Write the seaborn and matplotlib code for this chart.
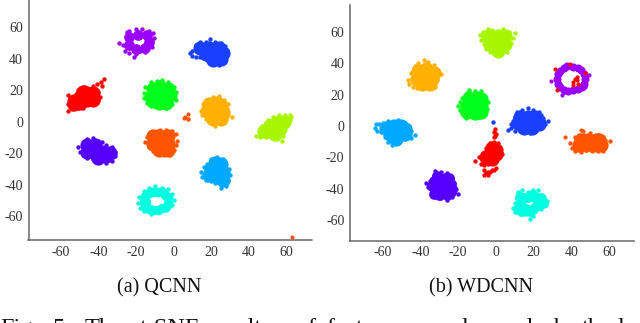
import matplotlib
matplotlib.use("Agg")
import matplotlib.pyplot as plt
import pandas as pd
import seaborn as sns

RED = "#ff0000"
ORANGE_RED = "#ff5500"
ORANGE = "#ffb000"
LIME = "#a8f500"
GREEN = "#00ff1a"
CYAN = "#00ffe0"
SKY = "#00a8ff"
BLUE = "#1a40ff"
INDIGO = "#5500ff"
VIOLET = "#9b00ff"

TICKS = [-60, -40, -20, 0, 20, 40, 60]

# QCNN clusters
q_violet_core = [(-24, 54), (-19, 55.5), (-14, 55), (-24, 49), (-20, 46.5), (-15, 47), (-13, 51)]
q_violet_edge = [(-29, 50), (-27, 49), (-26, 45), (-24, 44), (-21, 41.5), (-20, 43), (-18, 45), (-25, 57),
                 (-24, 58), (-20, 59), (-17, 59), (-13, 58), (-11, 56.5), (-10.5, 53), (-11.5, 47.5), (-12, 50), (-15, 44.5)]
q_blue_core = [(14, 47), (19, 47), (24, 47), (17, 43), (22, 43), (25, 40), (21, 39.5), (26, 44)]
q_blue_edge = [(8.5, 43.5), (10, 42), (12, 41.5), (14, 41), (10, 45), (12, 49), (14, 51), (17, 51), (19.5, 52.5),
               (22, 51), (25, 50), (27.5, 48), (27.5, 42), (27, 38), (24, 36), (21, 37), (18, 39)]
q_red_core = [(-53, 11), (-50, 12), (-50, 16), (-46, 14), (-46, 18), (-43, 18), (-48, 19), (-43, 14), (-53, 13)]
q_red_edge = [(-56, 7), (-56, 11), (-54, 8), (-51, 9), (-48, 9), (-45, 11), (-42, 12), (-40, 14), (-39, 16), (-56, 17),
              (-52, 17), (-51, 20), (-47, 22), (-43, 23), (-41, 24), (-38, 23), (-40, 19), (-37, 27.5), (-38.5, 25.5)]
q_green_core = [(-11, 21), (-7, 22), (-3, 21), (-12, 16), (-8, 17), (-4, 16), (-2, 17), (-8, 12), (-4, 12), (-11, 13)]
q_green_edge = [(-16, 18), (-15.5, 15), (-14, 12), (-12, 10), (-8, 9.5), (-4, 9), (-1, 11), (1, 14), (1.5, 19), (0, 22),
                (-3, 25), (-6, 26.5), (-9, 26), (-12, 25), (-15, 22)]
q_orange_core = [(19, 11), (23, 12), (25, 10), (18, 7), (22, 7), (26, 6), (21, 2), (25, 2)]
q_orange_edge = [(14.5, 7), (15, 4), (17, 2), (19, 0), (22, -2.5), (25, -1), (28, 2), (31, 3), (29, 4), (28, 8), (29, 11),
                 (27, 14), (24, 16.5), (21, 15.5), (18, 14), (15.5, 11)]
q_lime_core = [(56, 0), (53, -2), (56, -5), (50, -6), (54, -8), (58.5, 0), (48, -6), (51, -3)]
q_lime_edge = [(62.5, 3), (62, 1), (60, -2), (59, -5), (58, -9), (57.5, -12.5), (55, -11), (52, -10), (49, -9.5), (46, -10),
               (44, -9), (46, -7), (47, -3), (49, -1), (50, 1), (53, 3), (56, 4), (59, 4), (62, 4.5)]
q_tomato_core = [(-11, -9), (-7, -9), (-3, -9), (-11, -14), (-7, -14), (-3, -14), (-8, -18), (-3, -18)]
q_tomato_edge = [(-15, -13), (-14, -10), (-12, -7), (-9, -6), (-7, -5), (-4, -5), (-1, -6), (1, -8), (2, -12), (1, -15),
                 (0, -18), (-2, -21), (-5, -21.5), (-8, -20), (-11, -18.5), (-13, -16)]
q_tomato_strays = [(7.5, 5), (6, 3), (7.5, 1.5), (5.5, 2.5), (7.8, 2), (63, -73.5)]
q_indigo_core = [(-46, -15), (-42, -15), (-46, -19), (-42, -20), (-38, -19), (-36, -22), (-40, -23), (-34, -20)]
q_indigo_edge = [(-51, -16), (-50, -19), (-48, -21), (-46, -23), (-43, -24), (-40, -25), (-36, -26.5), (-33, -25), (-31, -22),
                 (-31, -19), (-33, -16), (-36, -15), (-38, -13), (-40, -12), (-43, -10.5), (-46, -11), (-48, -14)]
q_sky_core = [(22, -26), (25, -27), (20, -30), (24, -31), (26, -32), (19, -34), (23, -35), (26, -37)]
q_sky_edge = [(14.5, -32), (15, -35), (17, -37), (20, -38), (22, -39), (25, -42), (28, -41), (29, -38), (30, -34), (29.5, -30),
              (27, -27), (26, -24), (23, -22.5), (20, -23.5), (18, -27), (16, -29)]
q_cyan_core = [(-16, -51), (-15, -47), (-11, -45), (-6, -45), (-3, -48), (-3, -52), (-6, -55), (-11, -56), (-15, -54),
               (-8.5, -44.5), (-13, -45.5), (-8.5, -56.5), (-13, -55.5), (-4.5, -46.5), (-4, -54), (-14.5, -51)]
q_cyan_edge = [(-19, -52), (-18.5, -48), (-16, -44), (-13, -42), (-10, -41), (-6, -42), (-3, -43), (-1, -46), (0, -50), (-1, -53),
               (-4, -56), (-8, -57), (-12, -58.5), (-16, -57), (-18, -55)]

# WDCNN clusters
w_lime_core = [(-4, 57), (1, 57), (5, 57), (-3, 52), (1, 52), (5, 52), (1, 48)]
w_lime_edge = [(-8.5, 58), (-8, 55), (-6, 52), (-5, 49), (-3, 47), (0, 46), (1, 45), (3, 46), (6, 47), (7, 50), (8, 53), (9, 56),
               (10, 59), (7, 60), (4, 62), (1, 60), (-2, 61), (-4, 62), (-7, 60)]
w_orange_core = [(-41, 35), (-37, 36), (-33, 34), (-42, 30), (-38, 31), (-34, 30), (-39, 27), (-35, 27)]
w_orange_edge = [(-46.5, 29), (-46, 27), (-44, 25), (-42, 24), (-39, 25), (-36, 25), (-32, 25), (-31, 29), (-29, 33), (-31, 36),
                 (-33, 39), (-36, 41), (-38, 42), (-41, 40), (-43, 38), (-45, 34)]
w_green_core = [(-14, 18), (-10, 18), (-15, 13), (-11, 13), (-8, 13), (-15, 9), (-11, 8), (-8, 9), (-8, 17)]
w_green_edge = [(-20, 12.5), (-19, 15), (-18, 18), (-15, 21), (-14, 23), (-11, 22.5), (-8, 22), (-6, 19), (-4, 15), (-4.5, 11),
                (-6, 7), (-9, 6), (-12, 6), (-16, 5), (-18, 8), (-19, 10)]
w_violet_ring = [(47.5, 30), (47, 33), (45, 35.5), (43.5, 37), (41, 37.5), (38, 38), (36, 37), (34, 35), (33, 33), (32.5, 30),
                 (33, 27), (34, 25), (36, 23), (38.5, 22.5), (41, 23), (43.5, 23.5), (45.5, 25), (47, 27)]
w_violet_edge = [(29.3, 28.7), (49.6, 32.5), (35, 19.7), (47.3, 24.6), (36, 21.5), (48, 29)]
w_red_strays = [(42, 30), (43, 29), (41, 28), (43, 31), (41, 26), (43.5, 27), (31.4, 36), (39.4, 39.3), (47.3, 33.5), (32.7, 23)]
w_blue_core = [(13, 6), (17, 6), (21, 6), (12, 2), (16, 2), (20, 2), (23, 1), (15, -1), (19, -1), (23, 2)]
w_blue_edge = [(6.5, -2.5), (8, -1), (10, -3), (13, -3), (16, -3), (18, -4.5), (21, -3), (24, -1), (26, 1), (27.5, 3), (25, 5),
               (24, 7), (23, 9), (20, 10), (17, 11.5), (14, 10), (11, 9), (10, 6), (9, 3), (8, 1), (-1.6, 2.8)]
w_crimson_core = [(-2, -14), (0, -15), (-3, -18), (0, -18), (-5, -20), (-2, -21)]
w_crimson_edge = [(-11, -22), (-9, -20), (-7, -17), (-5, -14), (-3, -11), (-1, -10), (1, -11), (2, -14), (3, -17), (3.5, -18),
                  (1, -20), (-1, -23), (-4, -24), (-6, -25), (-8, -24.5),
                  (-1, -4), (0, -5), (-1, -7), (-0.5, -6.5), (-0.4, -2), (-6, -28), (-5, -30), (-6, -31), (-4, -29), (-2, -28),
                  (-1, -28), (0, -27), (-4, -31), (-3, -29.5)]
w_tomato_core = [(45, -9), (49, -9), (53, -9), (44, -12), (48, -12), (52, -12), (56, -12), (55, -9)]
w_tomato_edge = [(39.5, -11), (40.5, -14), (42, -16), (45, -16.5), (48, -15.5), (51, -16), (54, -16), (57, -16), (58, -13), (60.5, -9.5),
                 (58, -9), (57, -7), (54, -6), (50, -4.5), (47, -5.5), (44, -5.5), (42, -7)]
w_tomato_strays = [(36.5, -7), (45, -2.5), (46, -3)]
w_sky_core = [(-58, -1), (-54, 0), (-50, 0), (-56, -5), (-52, -4), (-48, -2), (-53, -8), (-48, -5)]
w_sky_edge = [(-64, -1), (-63.5, 1), (-62, 1), (-60, 2), (-57, 3), (-52, 3.5), (-48, 2), (-46, 0), (-45, -3), (-43, -6), (-45, -7.5),
              (-48, -8), (-50, -9), (-53, -11), (-55, -12), (-57, -10), (-59, -7), (-61, -4), (-63, -3)]
w_indigo_core = [(-31, -32), (-27, -33), (-27, -37), (-24, -37), (-28, -42), (-24, -42), (-26, -44), (-33, -43), (-34, -38),
                 (-30, -44), (-23, -40), (-25, -33), (-33, -35), (-29, -40), (-28, -36)]
w_indigo_edge = [(-37, -36), (-36, -39), (-34, -42), (-32, -44), (-29, -46), (-26, -47), (-23, -45), (-20, -43), (-21, -40), (-22, -36),
                 (-23, -33), (-26, -30), (-29, -29), (-32, -28.5), (-33, -31), (-35, -35), (-34, -38)]
w_cyan_core = [(13, -45), (17, -45), (21, -45), (13, -50), (22, -50), (14, -54), (18, -54), (25, -49),
               (24, -46), (20, -53), (16, -53), (12, -53), (15, -46), (19, -44)]
w_cyan_edge = [(9, -52), (10, -49), (11, -46), (12, -42), (14, -41), (17, -42), (20, -41), (22.5, -41), (24, -44), (27, -48), (26.5, -50),
               (24, -53), (22, -53), (20, -57), (18, -59), (16, -56), (13, -56), (10, -55)]

caption_words = ["Fig.", "5:", "The", "t-SNE", "results", "of", "feature", "maps", "learned", "by", "the", "last"]
caption_px = [0, 53, 85, 140, 208, 296, 326, 406, 462, 554, 582, 618]

FIG_W, FIG_H = 640, 323
CORE_S = 105
HOLE_S = 60
THIN_S = 48
RING_S = 34
EDGE_S = 10
STRAY_S = 9


def add_axes_px(fig, left, right, top, bottom):
    return fig.add_axes([left / FIG_W, 1 - bottom / FIG_H, (right - left) / FIG_W, (bottom - top) / FIG_H])


def draw(ax, points, color, size):
    df = pd.DataFrame(points, columns=["x", "y"])
    sns.scatterplot(data=df, x="x", y="y", color=color, s=size, linewidth=0, ax=ax)


def finish(ax, xlim, ylim):
    ax.set_xlim(xlim)
    ax.set_ylim(ylim)
    ax.set_xticks(TICKS)
    ax.set_yticks(TICKS)
    ax.set_xlabel("")
    ax.set_ylabel("")
    ax.tick_params(length=0, labelsize=10, labelcolor="#333333")
    ax.tick_params(axis="x", pad=4)
    ax.tick_params(axis="y", pad=4)
    sns.despine(ax=ax)
    for side in ["left", "bottom"]:
        ax.spines[side].set_color("#666666")
        ax.spines[side].set_linewidth(1.1)


sns.set_style("white")
plt.rcParams["font.family"] = ["Liberation Serif", "DejaVu Serif"]
plt.rcParams["axes.unicode_minus"] = False

fig = plt.figure(figsize=(FIG_W / 100, FIG_H / 100), dpi=100)

ax1 = add_axes_px(fig, 28.5, 312, 0, 240.3)
for core, edge, color, core_s in [
    (q_violet_core, q_violet_edge, VIOLET, HOLE_S),
    (q_blue_core, q_blue_edge, BLUE, CORE_S),
    (q_red_core, q_red_edge, RED, CORE_S),
    (q_green_core, q_green_edge, GREEN, CORE_S),
    (q_orange_core, q_orange_edge, ORANGE, CORE_S),
    (q_lime_core, q_lime_edge, LIME, CORE_S),
    (q_tomato_core, q_tomato_edge, ORANGE_RED, CORE_S),
    (q_indigo_core, q_indigo_edge, INDIGO, CORE_S),
    (q_sky_core, q_sky_edge, SKY, CORE_S),
    (q_cyan_core, q_cyan_edge, CYAN, THIN_S),
]:
    draw(ax1, core, color, core_s)
    draw(ax1, edge, color, EDGE_S)
draw(ax1, q_tomato_strays, ORANGE_RED, STRAY_S)
finish(ax1, (-77.2, 73.6), (-75.5, 77.5))

ax2 = add_axes_px(fig, 350, 634, 5, 240.7)
for core, edge, color, core_s in [
    (w_lime_core, w_lime_edge, LIME, CORE_S),
    (w_orange_core, w_orange_edge, ORANGE, CORE_S),
    (w_green_core, w_green_edge, GREEN, CORE_S),
    (w_blue_core, w_blue_edge, BLUE, CORE_S),
    (w_crimson_core, w_crimson_edge, RED, CORE_S),
    (w_tomato_core, w_tomato_edge, ORANGE_RED, CORE_S),
    (w_sky_core, w_sky_edge, SKY, CORE_S),
    (w_indigo_core, w_indigo_edge, INDIGO, HOLE_S),
    (w_cyan_core, w_cyan_edge, CYAN, HOLE_S),
]:
    draw(ax2, core, color, core_s)
    draw(ax2, edge, color, EDGE_S)
draw(ax2, w_tomato_strays, ORANGE_RED, STRAY_S)
draw(ax2, w_violet_ring, VIOLET, RING_S)
draw(ax2, w_violet_edge, VIOLET, STRAY_S)
draw(ax2, w_red_strays, RED, STRAY_S)
finish(ax2, (-77.3, 73.3), (-73, 77))

fig.text(159 / FIG_W, 1 - 292 / FIG_H, "(a) QCNN", fontsize=14.5, ha="center", va="baseline", color="#111111")
fig.text(481 / FIG_W, 1 - 292 / FIG_H, "(b) WDCNN", fontsize=14.5, ha="center", va="baseline", color="#111111")

# caption line below, cut off by the image edge
for px, word in zip(caption_px, caption_words):
    fig.text(px / FIG_W, 1 - 334 / FIG_H, word, fontsize=17.5, va="baseline", color="#111111")

fig.savefig("out.png", dpi=100)
